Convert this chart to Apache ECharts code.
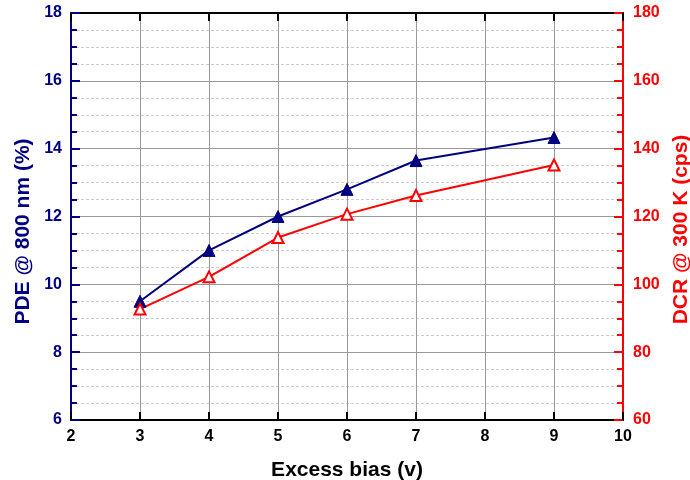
<!DOCTYPE html>
<html>
<head>
<meta charset="utf-8">
<title>PDE / DCR</title>
<script src="https://cdn.jsdelivr.net/npm/echarts@6/dist/echarts.min.js"></script>
<style>
html, body { margin: 0; padding: 0; background: #fff; }
#chart { width: 690px; height: 480px; }
</style>
</head>
<body>
<div id="chart"></div>
<script>
// data
var bias = [3, 4, 5, 6, 7, 9];
var pde = [9.5, 11.0, 12.0, 12.8, 13.65, 14.33];
var dcr = [92.7, 102.2, 113.8, 120.7, 126.2, 135.2];

var navy = '#000080';
var red = '#ff0000';
var font = 'Liberation Sans, Arial, sans-serif';

function pairs(xs, ys) {
	return xs.map(function (x, i) { return [x, ys[i]]; });
}

var chart = echarts.init(document.getElementById('chart'));
chart.setOption({
	animation: false,
	grid: { left: 71, right: 67, top: 13, bottom: 60, outerBoundsMode: 'none', containLabel: false },
	xAxis: [{
		type: 'value', min: 2, max: 10, interval: 1,
		name: 'Excess bias (v)', nameLocation: 'middle', nameGap: 40,
		nameTextStyle: { color: '#000', fontSize: 21, fontWeight: 'bold', fontFamily: font },
		axisLine: { lineStyle: { color: '#000', width: 2 } },
		axisTick: { inside: true, length: 8, lineStyle: { color: '#000', width: 2 } },
		axisLabel: { color: '#000', fontSize: 16, fontWeight: 'bold', fontFamily: font, margin: 9 },
		splitLine: { show: true, lineStyle: { color: '#999', width: 1 } }
	}, {
		type: 'value', min: 2, max: 10, interval: 1, position: 'top',
		axisLine: { lineStyle: { color: '#000', width: 2 } },
		axisTick: { inside: true, length: 8, lineStyle: { color: '#000', width: 2 } },
		axisLabel: { show: false },
		splitLine: { show: false }
	}],
	yAxis: [{
		type: 'value', min: 6, max: 18, interval: 2, position: 'left',
		name: 'PDE @ 800 nm (%)', nameLocation: 'middle', nameGap: 32,
		nameTextStyle: { color: navy, fontSize: 21, fontWeight: 'bold', fontFamily: font, padding: [0, 30, 0, 0] },
		axisLine: { show: true, lineStyle: { color: navy, width: 2 } },
		axisTick: { show: true, inside: true, length: 9, lineStyle: { color: navy, width: 2 } },
		minorTick: { show: true, splitNumber: 4, length: 6, lineStyle: { color: navy, width: 2 } },
		axisLabel: { color: navy, fontSize: 16, fontWeight: 'bold', fontFamily: font, margin: 9 },
		splitLine: { show: true, lineStyle: { color: '#999', width: 1 } },
		minorSplitLine: { show: true, lineStyle: { color: '#ccc', width: 1, type: [3, 2] } }
	}, {
		type: 'value', min: 60, max: 180, interval: 20, position: 'right',
		name: 'DCR @ 300 K (cps)', nameLocation: 'middle', nameGap: 47,
		nameTextStyle: { color: red, fontSize: 21, fontWeight: 'bold', fontFamily: font, padding: [0, 26, 0, 0] },
		axisLine: { show: true, lineStyle: { color: red, width: 2 } },
		axisTick: { show: true, inside: true, length: 9, lineStyle: { color: red, width: 2 } },
		minorTick: { show: true, splitNumber: 4, length: 6, lineStyle: { color: red, width: 2 } },
		axisLabel: { color: red, fontSize: 16, fontWeight: 'bold', fontFamily: font, margin: 10 },
		splitLine: { show: false }
	}],
	series: [{
		type: 'line', name: 'PDE', xAxisIndex: 0, yAxisIndex: 0,
		data: pairs(bias, pde),
		symbol: 'triangle', symbolSize: 12,
		lineStyle: { color: navy, width: 2 },
		itemStyle: { color: navy, borderColor: navy, borderWidth: 1 }
	}, {
		type: 'line', name: 'DCR', xAxisIndex: 0, yAxisIndex: 1,
		data: pairs(bias, dcr),
		symbol: 'triangle', symbolSize: 11,
		lineStyle: { color: red, width: 2 },
		itemStyle: { color: '#fff', borderColor: red, borderWidth: 2 }
	}]
});
</script>
</body>
</html>
